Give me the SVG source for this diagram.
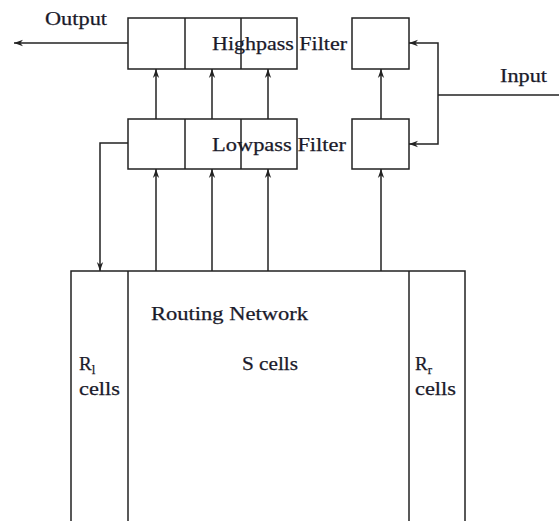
<svg xmlns="http://www.w3.org/2000/svg" width="559" height="521" viewBox="0 0 559 521">
<defs>
<marker id="ah" viewBox="0 0 10 10" refX="10" refY="5" markerWidth="9" markerHeight="9" markerUnits="userSpaceOnUse" orient="auto">
<path d="M0,1.5 L10,5 L0,8.5 L3,5 Z" fill="#222"/>
</marker>
<style>
.b{fill:none;stroke:#222;stroke-width:1.5}
.c{fill:none;stroke:#222;stroke-width:1.5;marker-end:url(#ah)}
.t{font-family:"Liberation Serif","Times New Roman",serif;font-size:19px;fill:#1a1a2a;stroke:#1a1a2a;stroke-width:0.25}
</style>
</defs>
<rect width="559" height="521" fill="#fff"/>
<g id="highpass">
<rect class="b" x="128" y="18" width="169" height="51"/>
<line class="b" x1="185" y1="18" x2="185" y2="69"/>
<line class="b" x1="241" y1="18" x2="241" y2="69"/>
<text class="t" x="212" y="50" textLength="135" lengthAdjust="spacingAndGlyphs">Highpass Filter</text>
</g>
<g id="highpass-right">
<rect class="b" x="352" y="18" width="57" height="51"/>
</g>
<g id="lowpass">
<rect class="b" x="128" y="119" width="169" height="50"/>
<line class="b" x1="185" y1="119" x2="185" y2="169"/>
<line class="b" x1="241" y1="119" x2="241" y2="169"/>
<text class="t" x="212" y="151" textLength="134" lengthAdjust="spacingAndGlyphs">Lowpass Filter</text>
</g>
<g id="lowpass-right">
<rect class="b" x="352" y="119" width="57" height="50"/>
</g>
<g id="routing">
<rect class="b" x="71" y="271" width="394" height="260"/>
<line class="b" x1="128" y1="271" x2="128" y2="531"/>
<line class="b" x1="409" y1="271" x2="409" y2="531"/>
<text class="t" x="151" y="320" textLength="157" lengthAdjust="spacingAndGlyphs">Routing Network</text>
<text class="t" x="242" y="370" textLength="56" lengthAdjust="spacingAndGlyphs">S cells</text>
<text class="t" x="79" y="370">R<tspan font-size="13" dy="4">l</tspan></text>
<text class="t" x="79" y="395" textLength="41" lengthAdjust="spacingAndGlyphs">cells</text>
<text class="t" x="415" y="370">R<tspan font-size="13" dy="4">r</tspan></text>
<text class="t" x="415" y="395" textLength="41" lengthAdjust="spacingAndGlyphs">cells</text>
</g>
<g id="labels">
<text class="t" x="45" y="25" textLength="62" lengthAdjust="spacingAndGlyphs">Output</text>
<text class="t" x="500" y="82" textLength="47" lengthAdjust="spacingAndGlyphs">Input</text>
</g>
<g id="connectors">
<line class="c" x1="128" y1="43" x2="14" y2="43"/>
<path class="b" d="M559,95 H438"/>
<path class="c" d="M438,95 V43 H409"/>
<path class="c" d="M438,95 V144 H409"/>
<line class="c" x1="381" y1="119" x2="381" y2="69"/>
<line class="c" x1="156" y1="119" x2="156" y2="69"/>
<line class="c" x1="212" y1="119" x2="212" y2="69"/>
<line class="c" x1="268" y1="119" x2="268" y2="69"/>
<line class="c" x1="156" y1="271" x2="156" y2="169"/>
<line class="c" x1="212" y1="271" x2="212" y2="169"/>
<line class="c" x1="268" y1="271" x2="268" y2="169"/>
<line class="c" x1="381" y1="271" x2="381" y2="169"/>
<path class="c" d="M128,143 H100 V271"/>
</g>
</svg>
